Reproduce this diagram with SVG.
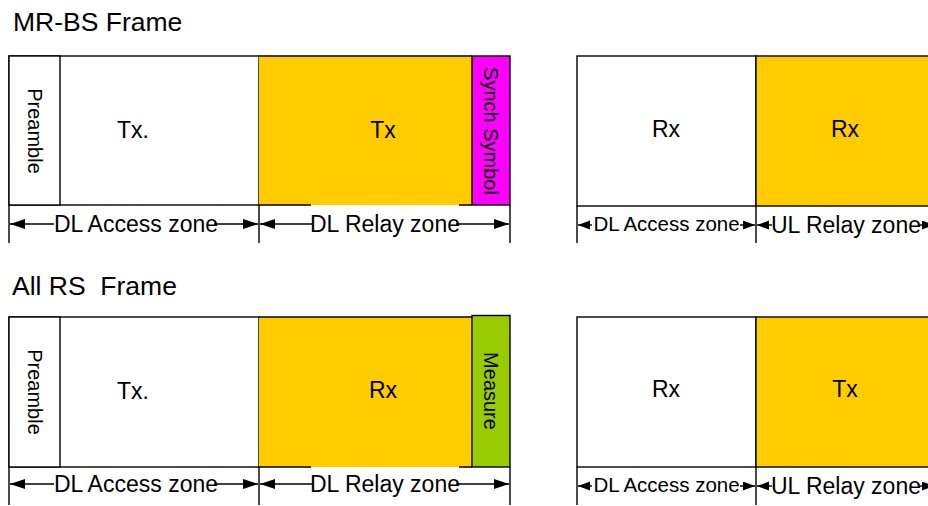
<svg xmlns="http://www.w3.org/2000/svg" width="928" height="506" viewBox="0 0 928 506">
<style>
text{font-family:"Liberation Sans",Arial,sans-serif;fill:#000}
.title{font-size:26.5px}
.lbl{font-size:23px;text-anchor:middle}
.sm{font-size:20.5px;text-anchor:middle}
.vt{font-size:20px;text-anchor:middle}
.box{stroke:#000;stroke-width:1.4}
.ln{stroke:#000;stroke-width:1.4;fill:none}
.ar{stroke:#000;stroke-width:1.4;fill:none;marker-end:url(#ah)}
.ars{stroke:#000;stroke-width:1.4;fill:none;marker-end:url(#ahs)}
.w{fill:#fff}.y{fill:#FFCC00}.m{fill:#FF00FF}.g{fill:#99CC00}
</style>
<defs>
<marker id="ah" markerUnits="userSpaceOnUse" markerWidth="16" markerHeight="11" refX="15" refY="5" orient="auto"><path d="M0,0 L15,5 L0,10 z" fill="#000"/></marker>
<marker id="ahs" markerUnits="userSpaceOnUse" markerWidth="13" markerHeight="10" refX="12" refY="4.5" orient="auto"><path d="M0,0 L12,4.5 L0,9 z" fill="#000"/></marker>
</defs>
<rect width="928" height="506" fill="#fff"/>
<text class="title" x="13" y="31">MR-BS Frame</text>
<text class="title" x="12" y="295" xml:space="preserve">All RS  Frame</text>

<!-- Top frame, left -->
<g id="mrbs-dl-access">
<rect class="box w" x="9" y="56" width="250" height="149"/>
<text class="lbl" x="133" y="138">Tx.</text>
</g>
<g id="mrbs-preamble">
<rect class="box w" x="9" y="56" width="51" height="149"/>
<text class="vt" transform="translate(35,131) rotate(90)" x="0" y="7">Preamble</text>
</g>
<g id="mrbs-dl-relay">
<rect class="y" x="259" y="56" width="213" height="149"/>
<path class="ln" d="M259,56 H472 M259,205 H311 M459,205 H472"/>
<text class="lbl" x="383" y="138">Tx</text>
</g>
<g id="mrbs-synch">
<rect class="box m" x="472" y="56" width="38" height="149"/>
<text class="vt" transform="translate(491,131) rotate(90)" x="0" y="7">Synch Symbol</text>
</g>
<!-- Top frame, right -->
<g id="mrbs-ul-access">
<rect class="box w" x="577" y="56" width="179" height="150"/>
<text class="lbl" x="666" y="137">Rx</text>
</g>
<g id="mrbs-ul-relay">
<rect class="box y" x="756" y="56" width="180" height="150"/>
<text class="lbl" x="845" y="137">Rx</text>
</g>

<!-- Bottom frame, left -->
<g id="rs-dl-access">
<rect class="box w" x="9" y="317" width="250" height="150"/>
<text class="lbl" x="133" y="399">Tx.</text>
</g>
<g id="rs-preamble">
<rect class="box w" x="9" y="317" width="51" height="150"/>
<text class="vt" transform="translate(35,392) rotate(90)" x="0" y="7">Preamble</text>
</g>
<g id="rs-dl-relay">
<rect class="y" x="259" y="317" width="213" height="150"/>
<path class="ln" d="M259,317 H472 M259,467 H311 M459,467 H472"/>
<text class="lbl" x="383" y="398">Rx</text>
</g>
<g id="rs-measure">
<rect class="box g" x="472" y="315.5" width="38" height="151.5"/>
<text class="vt" transform="translate(491,391) rotate(90)" x="0" y="7">Measure</text>
</g>
<!-- Bottom frame, right -->
<g id="rs-ul-access">
<rect class="box w" x="577" y="317" width="179" height="150"/>
<text class="lbl" x="666" y="397">Rx</text>
</g>
<g id="rs-ul-relay">
<rect class="box y" x="756" y="317" width="180" height="150"/>
<text class="lbl" x="845" y="397">Tx</text>
</g>

<!-- Zone dimension lines -->
<g id="connectors">
<path class="ln" d="M9,205 V243 M259,205 V243 M510,205 V243 M577,206 V243 M756,206 V243"/>
<path class="ln" d="M9,467 V505 M259,467 V505 M510,467 V505 M577,467 V505 M756,467 V505"/>
<line class="ar" x1="54" y1="224" x2="10" y2="224"/>
<line class="ar" x1="214" y1="224" x2="258" y2="224"/>
<line class="ar" x1="312" y1="224" x2="260" y2="224"/>
<line class="ar" x1="456" y1="224" x2="509" y2="224"/>
<line class="ars" x1="592" y1="225" x2="578" y2="225"/>
<line class="ars" x1="740" y1="225" x2="755" y2="225"/>
<line class="ars" x1="772" y1="225" x2="757" y2="225"/>
<line class="ars" x1="919" y1="225" x2="934" y2="225"/>
<line class="ar" x1="54" y1="484" x2="10" y2="484"/>
<line class="ar" x1="214" y1="484" x2="258" y2="484"/>
<line class="ar" x1="312" y1="484" x2="260" y2="484"/>
<line class="ar" x1="456" y1="484" x2="509" y2="484"/>
<line class="ars" x1="592" y1="486" x2="578" y2="486"/>
<line class="ars" x1="740" y1="486" x2="755" y2="486"/>
<line class="ars" x1="772" y1="486" x2="757" y2="486"/>
<line class="ars" x1="919" y1="486" x2="934" y2="486"/>
</g>
<g id="labels">
<text class="lbl" x="136" y="232">DL Access zone</text>
<text class="lbl" x="385" y="232">DL Relay zone</text>
<text class="sm" x="666.5" y="231">DL Access zone</text>
<text class="lbl" x="846" y="233">UL Relay zone</text>
<text class="lbl" x="136" y="492">DL Access zone</text>
<text class="lbl" x="385" y="492">DL Relay zone</text>
<text class="sm" x="666.5" y="492">DL Access zone</text>
<text class="lbl" x="846" y="494">UL Relay zone</text>
</g>
</svg>
